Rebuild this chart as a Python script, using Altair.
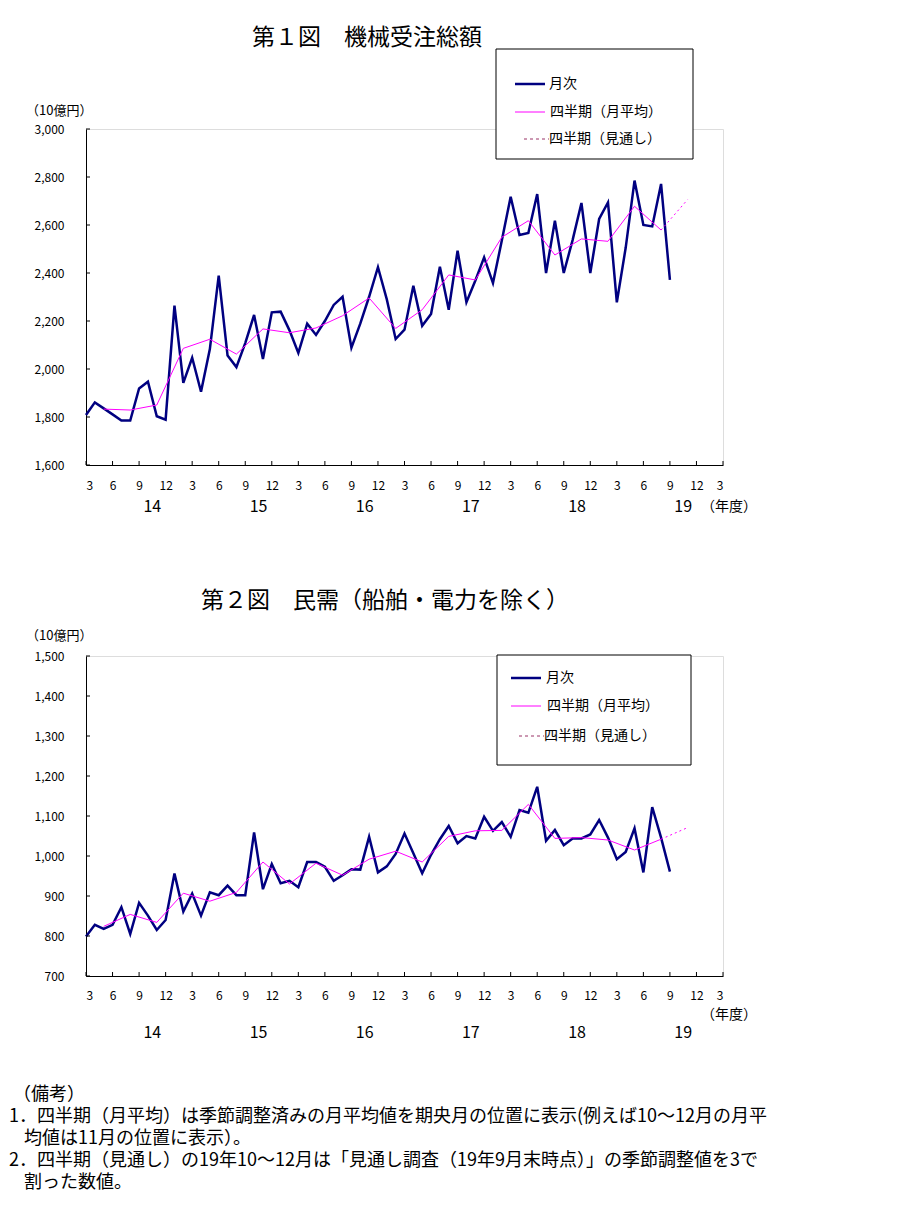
import altair as alt
import pandas as pd

FONT = "Noto Sans CJK JP"

# ---- data (index 0 = 2014年3月, monthly; quarterly plotted at mid month) ----
c1_monthly = [1808, 1861, 1836, 1811, 1785, 1785, 1919, 1947, 1803, 1789, 2264, 1942,
              2047, 1905, 2083, 2389, 2056, 2008, 2108, 2225, 2042, 2236, 2239, 2161,
              2067, 2189, 2142, 2200, 2267, 2301, 2089, 2189, 2301, 2424, 2290, 2125,
              2164, 2347, 2180, 2229, 2426, 2247, 2493, 2278, 2368, 2465, 2358, 2535,
              2718, 2558, 2567, 2729, 2400, 2618, 2400, 2537, 2692, 2400, 2625, 2694,
              2278, 2505, 2785, 2600, 2594, 2771, 2371]
c1_quarterly = [1833, 1829, 1850, 2086, 2124, 2062, 2167, 2151, 2171, 2222, 2296,
                2169, 2247, 2392, 2371, 2549, 2618, 2475, 2542, 2532, 2678, 2579]
c1_forecast = [2579, 2706]

c2_monthly = [799, 828, 818, 828, 872, 805, 883, 851, 815, 840, 956, 861,
              906, 851, 909, 902, 926, 902, 902, 1059, 917, 980, 932, 938,
              922, 985, 985, 973, 938, 952, 967, 966, 1048, 959, 974, 1005,
              1056, 1007, 957, 1003, 1042, 1075, 1032, 1050, 1044, 1098, 1063, 1085,
              1048, 1115, 1108, 1173, 1038, 1065, 1027, 1044, 1044, 1054, 1090, 1046,
              992, 1010, 1069, 959, 1122, 1046, 961]
c2_quarterly = [824, 854, 834, 907, 887, 909, 985, 930, 982, 952, 992,
                1012, 985, 1049, 1063, 1064, 1129, 1044, 1046, 1040, 1015, 1042]
c2_forecast = [1042, 1071]

quarter_idx = list(range(2, 66, 3))
forecast_idx = [65, 68]
month_labels = ["3", "6", "9", "12"]
year_labels = ["14", "15", "16", "17", "18", "19"]

footnotes = [
    "（備考）",
    "1．四半期（月平均）は季節調整済みの月平均値を期央月の位置に表示(例えば10～12月の月平",
    "均値は11月の位置に表示）。",
    "2．四半期（見通し）の19年10～12月は「見通し調査（19年9月末時点）」の季節調整値を3で",
    "割った数値。",
]

NAVY = "#000080"
MAG = "#FF00FF"
DASHLEG = "#993366"
W = 637
one = pd.DataFrame({"d": [0]})


def txt(s, x, y, size, align="left", color="black"):
    return alt.Chart(one).mark_text(
        text=s, align=align, baseline="middle", fontSize=size, font=FONT, color=color
    ).encode(x=alt.value(x), y=alt.value(y))


def hrule(x1, x2, y, color, width, dash=None):
    kw = dict(color=color, strokeWidth=width)
    if dash:
        kw["strokeDash"] = dash
    return alt.Chart(one).mark_rule(**kw).encode(
        x=alt.value(x1), x2=alt.value(x2), y=alt.value(y))


def panel(title, tpos, monthly, quarterly, forecast, ydom, ystep, h,
          unit_y, legend, month_dy, year_dy, nendo_dy, extra=None):
    xs = alt.Scale(domain=[0, 72], nice=False, zero=False)
    ys = alt.Scale(domain=ydom, nice=False, zero=False)
    yvals = list(range(ydom[0], ydom[1] + 1, ystep))
    expr = "[" + ",".join("'%s'" % m for m in month_labels) + "][(datum.value/3)%4]"

    df_m = pd.DataFrame({"i": list(range(len(monthly))), "v": monthly})
    df_q = pd.DataFrame({"i": quarter_idx, "v": quarterly})
    df_f = pd.DataFrame({"i": forecast_idx, "v": forecast})

    xaxis = alt.Axis(values=list(range(0, 73, 3)), labelExpr=expr, title=None,
                     tickSize=0, labelPadding=month_dy - 6, labelFontSize=12,
                     labelFont=FONT, labelColor="black", domainColor="black",
                     domainWidth=1, grid=False, labelBaseline="top")
    yaxis = alt.Axis(values=yvals, labelExpr="format(datum.value, ',.0f')",
                     title=None, tickSize=0,
                     labelPadding=22, labelFontSize=12, labelFont=FONT,
                     labelColor="black", domainColor="black", domainWidth=1,
                     grid=False)

    def X(f):
        return alt.X(f, scale=xs, axis=xaxis)

    def Y(f):
        return alt.Y(f, scale=ys, axis=yaxis)

    line_m = alt.Chart(df_m).mark_line(color=NAVY, strokeWidth=2.5).encode(
        x=X("i:Q"), y=Y("v:Q"))
    line_q = alt.Chart(df_q).mark_line(color=MAG, strokeWidth=1).encode(
        x=X("i:Q"), y=Y("v:Q"))
    line_f = alt.Chart(df_f).mark_line(color=MAG, strokeWidth=1, strokeDash=[2, 3]).encode(
        x=X("i:Q"), y=Y("v:Q"))

    xt = pd.DataFrame({"i": list(range(0, 73, 3))})
    xticks = alt.Chart(xt).mark_rule(color="black", strokeWidth=1).encode(
        x=X("i:Q"), y=alt.value(h - 4), y2=alt.value(h))
    yt = pd.DataFrame({"v": yvals})
    yticks = alt.Chart(yt).mark_rule(color="black", strokeWidth=1).encode(
        y=Y("v:Q"), x=alt.value(0), x2=alt.value(4))

    yr = pd.DataFrame({"t": year_labels,
                       "p": [k * 12 + 7.5 for k in range(len(year_labels))]})
    years = alt.Chart(yr).mark_text(fontSize=16, font=FONT, baseline="middle",
                                    color="black").encode(
        x=X("p:Q"), y=alt.value(h + year_dy), text="t:N")

    bx = legend
    box = alt.Chart(one).mark_rect(fill="white", stroke="black", strokeWidth=1).encode(
        x=alt.value(bx["x1"]), x2=alt.value(bx["x2"]),
        y=alt.value(bx["y1"]), y2=alt.value(bx["y2"]))
    r = bx["rows"]
    leg = [
        box,
        hrule(bx["lx1"], bx["lx2"], r[0], NAVY, 2.5),
        txt("月次", bx["tx"], r[0], 14),
        hrule(bx["lx1"], bx["lx2"], r[1], MAG, 1),
        txt("四半期（月平均）", bx["tx"] + 1, r[1], 14),
        hrule(bx["dx1"], bx["dx2"], r[2], DASHLEG, 1, [3, 3]),
        txt("四半期（見通し）", bx["dx2"], r[2], 14),
    ]

    layers = [line_m, line_q, line_f, xticks, yticks, years,
              txt(title, tpos[0], tpos[1], 23, align="center"),
              txt("（10億円）", -60, unit_y, 13),
              txt("（年度）", 643, h + nendo_dy, 14, align="center")] + leg
    if extra:
        layers += extra
    return alt.layer(*layers).properties(width=W, height=h)


leg1 = dict(x1=410, x2=607, y1=-80, y2=30, rows=[-45, -17, 10],
            lx1=429, lx2=459, tx=463, dx1=438, dx2=463)
leg2 = dict(x1=411, x2=605, y1=-1, y2=109, rows=[22, 50, 80],
            lx1=425, lx2=455, tx=460, dx1=433, dx2=458)

notes = [txt(footnotes[0], -73, 439, 18),
         txt(footnotes[1], -77, 461, 18),
         txt(footnotes[2], -62, 483, 18),
         txt(footnotes[3], -77, 505, 18),
         txt(footnotes[4], -62, 527, 18)]

c1 = panel("第１図　機械受注総額", (281, -91), c1_monthly, c1_quarterly, c1_forecast,
           [1600, 3000], 200, 336, -18, leg1, 21, 42, 42)
c2 = panel("第２図　民需（船舶・電力を除く）", (299, -55), c2_monthly, c2_quarterly,
           c2_forecast, [700, 1500], 100, 320, -20, leg2, 20, 57, 39, extra=notes)

chart = alt.vconcat(c1, c2, spacing=73).properties(
    padding={"left": 0, "top": 18, "right": 0, "bottom": 0}
).configure_view(stroke=None).configure(background="white")

chart.save("out.html", embed_options={"renderer": "svg", "actions": False})
